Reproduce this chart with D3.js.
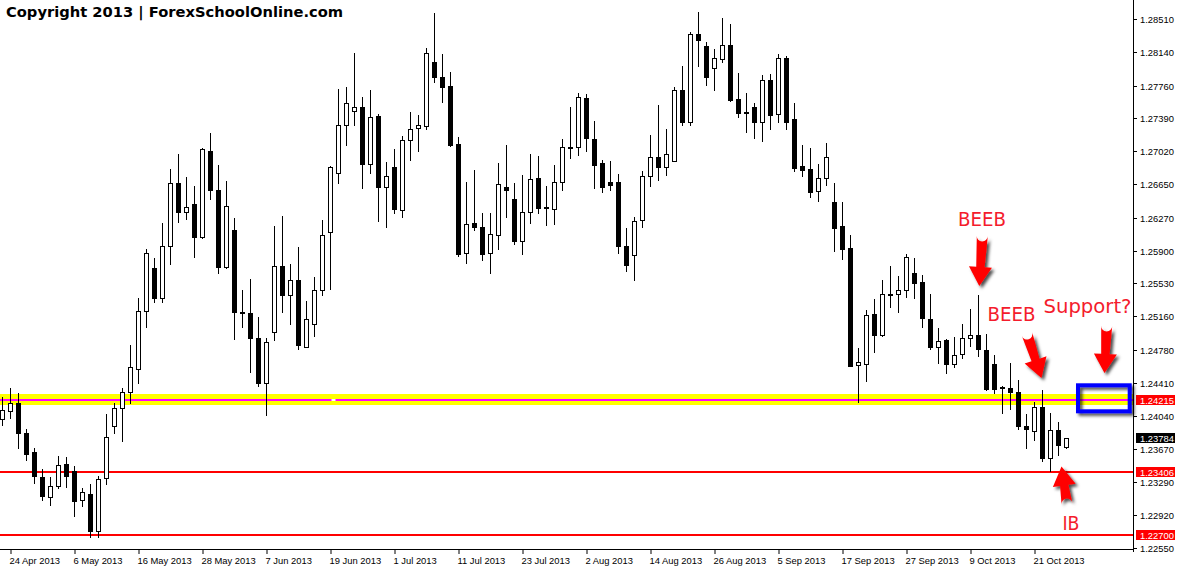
<!DOCTYPE html>
<html><head><meta charset="utf-8">
<script src="https://cdn.jsdelivr.net/npm/d3@7"></script>
<style>html,body{margin:0;padding:0;background:#fff;overflow:hidden}</style>
</head><body>
<svg id="chart" width="1178" height="566"></svg>
<script>
// ---- data: EUR/USD daily candles, 23 Apr 2013 .. 25 Oct 2013 (weekdays) ----
const opens = [1.23998,1.24088,1.24181,1.23844,1.23632,1.23347,1.23120,1.23246,1.23494,1.23412,
1.23087,1.23164,1.22737,1.23335,1.23925,1.24128,1.24303,1.24563,1.25218,1.25702,
1.25369,1.25958,1.26658,1.26333,1.26422,1.26052,1.27028,1.26581,1.25714,1.26133,
1.25206,1.25194,1.24921,1.24405,1.24982,1.25723,1.25397,1.25564,1.24820,1.25072,
1.25458,1.26109,1.26780,1.27313,1.27471,1.27524,1.26874,1.27414,1.26617,1.26841,
1.26353,1.27146,1.27280,1.27301,1.28024,1.27862,1.27756,1.27097,1.25869,1.26215,
1.26162,1.25877,1.26080,1.26617,1.26487,1.26007,1.26333,1.26719,1.26390,1.26365,
1.26670,1.27065,1.27065,1.27618,1.27158,1.26882,1.26670,1.26670,1.25950,1.25849,
1.26243,1.26743,1.26951,1.26841,1.26914,1.27707,1.27353,1.28338,1.28207,1.27963,
1.28061,1.28212,1.27606,1.27463,1.27516,1.27353,1.27821,1.27443,1.28065,1.27382,
1.26849,1.26821,1.26568,1.26719,1.26446,1.26174,1.25926,1.24608,1.24628,1.25186,
1.24954,1.25409,1.25409,1.25458,1.25645,1.25544,1.25125,1.24820,1.24893,1.24628,
1.24738,1.24913,1.24950,1.24779,1.24624,1.24364,1.24348,1.24311,1.23925,1.23864,
1.24136,1.23567,1.23876,1.23693];
const highs = [1.24250,1.24352,1.24291,1.23896,1.23681,1.23437,1.23347,1.23591,1.23575,1.23478,
1.23225,1.23266,1.23364,1.24059,1.24181,1.24352,1.24832,1.25365,1.25918,1.25816,
1.26211,1.26825,1.26987,1.26731,1.26629,1.27057,1.27231,1.26861,1.26690,1.26263,
1.25462,1.25580,1.25153,1.24921,1.26174,1.26296,1.25755,1.25938,1.25328,1.25605,
1.26243,1.26853,1.27719,1.27740,1.28122,1.27626,1.27715,1.27435,1.26894,1.27044,
1.27187,1.27463,1.27423,1.28187,1.28574,1.28114,1.27911,1.27179,1.26670,1.26813,
1.26324,1.26324,1.26882,1.27085,1.26662,1.26752,1.26987,1.26967,1.26629,1.26865,
1.27158,1.27524,1.27675,1.27667,1.27362,1.26922,1.26910,1.26764,1.26154,1.26284,
1.26792,1.27199,1.27536,1.27272,1.27740,1.27980,1.28366,1.28590,1.28248,1.28167,
1.28521,1.28452,1.27902,1.27675,1.27569,1.27878,1.27890,1.28114,1.28094,1.27565,
1.27085,1.27057,1.26874,1.27109,1.26662,1.26446,1.26072,1.24807,1.25234,1.25361,
1.25568,1.25727,1.25613,1.25857,1.25816,1.25625,1.25417,1.25031,1.24909,1.24929,
1.25076,1.25247,1.25401,1.24962,1.24726,1.24380,1.24637,1.24441,1.24059,1.24197,
1.24332,1.24067,1.23974,1.23791];
const lows = [1.23933,1.24018,1.23681,1.23539,1.23286,1.23091,1.23038,1.23221,1.23234,1.22908,
1.23018,1.22672,1.22672,1.23266,1.23844,1.23754,1.24181,1.24405,1.25035,1.25316,
1.25324,1.25755,1.26227,1.26255,1.25824,1.26040,1.26479,1.25645,1.25706,1.24901,
1.25043,1.24535,1.24380,1.24047,1.24889,1.25206,1.25076,1.24787,1.24812,1.24942,
1.25397,1.25470,1.26658,1.27085,1.27321,1.26601,1.26780,1.26231,1.26162,1.26324,
1.26284,1.26926,1.27028,1.27268,1.27797,1.27573,1.27077,1.25836,1.25763,1.26129,
1.25796,1.25653,1.25918,1.26284,1.25979,1.25857,1.26215,1.26324,1.26194,1.26202,
1.26589,1.26947,1.26975,1.27028,1.26601,1.26556,1.26589,1.25877,1.25674,1.25572,
1.26170,1.26629,1.26699,1.26752,1.26906,1.27321,1.27321,1.27980,1.27768,1.27715,
1.28020,1.27585,1.27402,1.27239,1.27170,1.27138,1.27268,1.27349,1.27268,1.26792,
1.26743,1.26507,1.26459,1.26642,1.25897,1.25804,1.24596,1.24197,1.24433,1.24759,
1.24942,1.25267,1.25206,1.25381,1.25365,1.25043,1.24791,1.24637,1.24527,1.24584,
1.24689,1.24828,1.24710,1.24332,1.24291,1.24067,1.24120,1.23896,1.23681,1.23770,
1.23530,1.23417,1.23600,1.23681];
const closes = [1.24100,1.24181,1.23844,1.23608,1.23356,1.23132,1.23246,1.23490,1.23356,1.23083,
1.23181,1.22737,1.23331,1.23803,1.24128,1.24303,1.24584,1.25218,1.25877,1.25369,
1.25958,1.26658,1.26333,1.26390,1.26052,1.27044,1.26581,1.25714,1.26398,1.25206,
1.25194,1.24913,1.24405,1.24868,1.25723,1.25397,1.25564,1.24832,1.25125,1.25458,
1.26072,1.26841,1.27313,1.27569,1.27516,1.26874,1.27402,1.26621,1.26743,1.26365,
1.27146,1.27272,1.27313,1.28122,1.27862,1.27748,1.27089,1.25865,1.26202,1.26162,
1.25865,1.26089,1.26650,1.26589,1.26007,1.26333,1.26703,1.26385,1.26381,1.26670,
1.27065,1.27052,1.27626,1.27166,1.26869,1.26621,1.26642,1.25958,1.25735,1.26235,
1.26743,1.26951,1.26841,1.26987,1.27715,1.27353,1.28338,1.28277,1.27862,1.28065,
1.28212,1.27597,1.27455,1.27455,1.27353,1.27821,1.27431,1.28065,1.27353,1.26833,
1.26812,1.26564,1.26719,1.26951,1.26158,1.25918,1.24604,1.24645,1.25173,1.24954,
1.25409,1.25397,1.25458,1.25824,1.25531,1.25145,1.24820,1.24881,1.24628,1.24726,
1.24913,1.24950,1.24787,1.24344,1.24344,1.24348,1.24303,1.23925,1.23892,1.24136,
1.23559,1.23876,1.23713,1.23784];
const firstDay = "2013-04-23";
const lastDay = "2013-10-25";
const xTickDates = ["2013-04-24","2013-05-06","2013-05-16","2013-05-28","2013-06-07","2013-06-19",
"2013-07-01","2013-07-11","2013-07-23","2013-08-02","2013-08-14","2013-08-26","2013-09-05",
"2013-09-17","2013-09-27","2013-10-09","2013-10-21"];
const yTickValues = [1.28510,1.28140,1.27760,1.27390,1.27020,1.26650,1.26270,1.25900,1.25530,
1.25160,1.24780,1.24410,1.24040,1.23670,1.23290,1.22920,1.22550];
const zoneLevel = 1.24215;
const redLevels = [1.23406, 1.22700];
const lastPrice = 1.23784;
const titleText = "Copyright 2013 | ForexSchoolOnline.com";

// ---- build ----
const parse = d3.utcParse("%Y-%m-%d");
const fmtKey = d3.utcFormat("%Y-%m-%d");
const fmtTick = d3.utcFormat("%-d %b %Y");
const days = d3.utcDay.range(parse(firstDay), d3.utcDay.offset(parse(lastDay), 1))
  .filter(d => d.getUTCDay() !== 0 && d.getUTCDay() !== 6);
const candles = days.map((d, i) => ({key: fmtKey(d), date: d, o: opens[i], h: highs[i], l: lows[i], c: closes[i]}));

const W = 1178, H = 566;
const plotRight = 1133, plotBottom = 549;
const step = 8;
const x = d3.scaleBand().domain(candles.map(d => d.key))
  .range([-1.5, -1.5 + step * candles.length]).padding(0);
const xc = k => x(k) + x.bandwidth() / 2;
const y = d3.scaleLinear().domain([1.22550, 1.28510]).range([548, 19]);

const svg = d3.select("#chart");
const defs = svg.append("defs");
const f = defs.append("filter").attr("id", "shadow").attr("x", "-50%").attr("y", "-50%").attr("width", "200%").attr("height", "200%");
f.append("feDropShadow").attr("dx", 2.5).attr("dy", 2.5).attr("stdDeviation", 1.6)
  .attr("flood-color", "#000").attr("flood-opacity", 0.7);

svg.append("rect").attr("width", W).attr("height", H).attr("fill", "#fff");

// level lines
const gLev = svg.append("g");
const yz = y(zoneLevel);
gLev.append("rect").attr("x", 0).attr("y", Math.round(yz) - 6).attr("width", plotRight).attr("height", 11).attr("fill", "#ffff00");
gLev.append("rect").attr("x", 0).attr("y", Math.round(yz) - 1).attr("width", plotRight).attr("height", 2).attr("fill", "#ff00ff");
gLev.append("rect").attr("x", xc(candles[41].key) + 1).attr("y", Math.round(yz) - 1).attr("width", 4).attr("height", 2).attr("fill", "#fff");
redLevels.forEach(v => {
  gLev.append("rect").attr("x", 0).attr("y", Math.round(y(v)) - 1).attr("width", plotRight).attr("height", 2).attr("fill", "#ff0000");
});

// candles
const gC = svg.append("g");
candles.forEach(d => {
  const cx = xc(d.key);
  const yh = Math.round(y(d.h)), yl = Math.round(y(d.l));
  gC.append("rect").attr("x", cx - 0.5).attr("y", yh).attr("width", 1).attr("height", Math.max(1, yl - yh + 1)).attr("fill", "#000");
  const bull = d.c >= d.o;
  const yt = Math.round(y(Math.max(d.o, d.c))), yb = Math.round(y(Math.min(d.o, d.c)));
  if (yb - yt < 1) {
    gC.append("rect").attr("x", cx - 2.5).attr("y", yt).attr("width", 5).attr("height", 1).attr("fill", "#000");
  } else {
    gC.append("rect").attr("x", cx - 2).attr("y", yt + 0.5).attr("width", 4).attr("height", yb - yt)
      .attr("fill", bull ? "#fff" : "#000").attr("stroke", "#000").attr("stroke-width", 1);
  }
});

// axes
const gA = svg.append("g").attr("font-family", "'Liberation Sans', Arial, sans-serif").attr("font-size", "9.4px");
gA.append("line").attr("x1", plotRight + 0.5).attr("x2", plotRight + 0.5).attr("y1", 0).attr("y2", plotBottom + 3).attr("stroke", "#000");
gA.append("line").attr("x1", 0).attr("x2", plotRight + 1).attr("y1", plotBottom + 0.5).attr("y2", plotBottom + 0.5).attr("stroke", "#000");
yTickValues.forEach(v => {
  const yy = Math.round(y(v)) + 0.5;
  gA.append("line").attr("x1", plotRight + 1).attr("x2", plotRight + 4).attr("y1", yy).attr("y2", yy).attr("stroke", "#000");
  gA.append("text").attr("x", plotRight + 7).attr("y", yy + 3.3).attr("fill", "#000").text(v.toFixed(5));
});
xTickDates.forEach(k => {
  const xx = Math.round(xc(k)) + 0.5;
  gA.append("line").attr("x1", xx - 0.5).attr("x2", xx - 0.5).attr("y1", plotBottom + 1).attr("y2", plotBottom + 5).attr("stroke", "#000");
  gA.append("text").attr("x", xx - 2).attr("y", 563.5).attr("fill", "#000").text(fmtTick(parse(k)));
});
// price boxes
const boxes = [{v: zoneLevel, bg: "#ff0000"}, {v: lastPrice, bg: "#000"}, {v: redLevels[0], bg: "#ff0000"}, {v: redLevels[1], bg: "#ff0000"}];
boxes.forEach(b => {
  const yy = Math.round(y(b.v));
  gA.append("rect").attr("x", plotRight + 3).attr("y", yy - 5).attr("width", 39).attr("height", 10).attr("fill", b.bg);
  gA.append("text").attr("x", plotRight + 7).attr("y", yy + 3.6).attr("fill", "#fff").text(b.v.toFixed(5));
});

// title
svg.append("text").attr("x", 6).attr("y", 17).attr("font-family", "'DejaVu Sans', Verdana, sans-serif")
  .attr("font-weight", "bold").attr("font-size", "14.7px").attr("fill", "#000").text(titleText);

// annotations
const gN = svg.append("g");
gN.append("rect").attr("x", 1078).attr("y", 385.3).attr("width", 51.7).attr("height", 26)
  .attr("fill", "none").attr("stroke", "#0000ff").attr("stroke-width", 4).attr("filter", "url(#shadow)");
function arrow(x1, y1, x2, y2) {
  const dx = x2 - x1, dy = y2 - y1, L = Math.hypot(dx, dy);
  const ux = dx / L, uy = dy / L, px = -uy, py = ux;
  const hl = 19, hw = 11.5, sw0 = 5.5, sw1 = 4.2;
  const bx = x2 - ux * hl, by = y2 - uy * hl;
  const pts = [
    [x1 + px * sw0, y1 + py * sw0],
    [bx + px * sw1, by + py * sw1],
    [bx + px * hw, by + py * hw],
    [x2, y2],
    [bx - px * hw, by - py * hw],
    [bx - px * sw1, by - py * sw1],
    [x1 - px * sw0, y1 - py * sw0]
  ];
  const p = d3.path();
  p.moveTo(pts[0][0], pts[0][1]);
  for (let i = 1; i < pts.length; i++) p.lineTo(pts[i][0], pts[i][1]);
  p.arc(x1, y1, sw0, Math.atan2(-py, -px), Math.atan2(py, px));
  p.closePath();
  gN.append("path").attr("d", p.toString()).attr("fill", "#ff0000").attr("filter", "url(#shadow)");
}
arrow(982.3, 236, 979.3, 286);
arrow(1027, 334, 1041.5, 378);
arrow(1106.7, 326, 1104.5, 373);
arrow(1067, 504, 1061.5, 466.5);
const labels = [
  {t: "BEEB", x: 958, y: 226, w: 48},
  {t: "BEEB", x: 987.5, y: 321, w: 48},
  {t: "Support?", x: 1043.5, y: 312.5, w: 88},
  {t: "IB", x: 1062.5, y: 530, w: 17}
];
labels.forEach(l => {
  gN.append("text").attr("x", l.x).attr("y", l.y).attr("font-family", "'DejaVu Sans', Verdana, sans-serif")
    .attr("font-size", "19.5px").attr("fill", "#f41c2c").attr("textLength", l.w).attr("lengthAdjust", "spacingAndGlyphs").text(l.t);
});
</script>
</body></html>
